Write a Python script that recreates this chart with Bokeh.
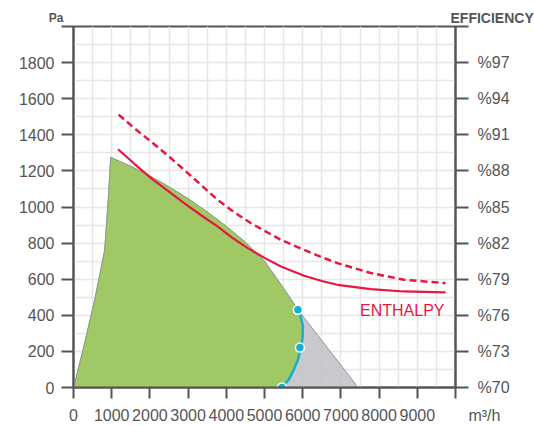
from bokeh.plotting import figure
from bokeh.models import Range1d, LinearAxis, FixedTicker, Label
from bokeh.embed import file_html
from bokeh.resources import INLINE

# ---- data ----
# fan envelope: left edge then top edge (m3/h, Pa)
env_left_x = [0, 78, 295, 556, 817, 914, 974]
env_left_y = [0, 62, 249, 486, 762, 1055, 1275]
env_top_x = [1500, 2000, 2500, 3000, 3500, 4000, 4500, 5000, 5250, 5500, 5875]
env_top_y = [1225, 1172, 1112, 1046, 973, 893, 805, 700, 625, 550, 431]
env_end_x = [7390, 7390]
env_end_y = [17, 0]

# limit curve (cyan) from top to bottom
lim_x = [5875, 5960, 6005, 5995, 5950, 5870, 5770, 5640, 5457]
lim_y = [431, 385, 337, 270, 215, 150, 99, 45, 0]
dot_x = [5875, 5927, 5457]
dot_y = [431, 221, 0]

# enthalpy efficiency curves
ent_x = [1167, 1600, 2037, 2500, 2906, 3350, 3778, 4150, 4561, 5000, 5431, 6039, 6500, 6911, 7781, 8650, 9739]
ent_y = [1320, 1238, 1159, 1085, 1020, 953, 891, 830, 772, 718, 670, 619, 590, 569, 545, 532, 527]
ent2_x = [1183, 1600, 2037, 2500, 2906, 3350, 3778, 4200, 4648, 5050, 5431, 6039, 6500, 6911, 7781, 8650, 9739]
ent2_y = [1512, 1435, 1361, 1280, 1204, 1120, 1039, 972, 910, 862, 818, 762, 722, 689, 634, 597, 578]

x_unit = "m³/h"
x_ticks = [0, 1000, 2000, 3000, 4000, 5000, 6000, 7000, 8000, 9000, 10000]
# the unit sits right of the last tick (no-break spaces push it right of the axis end)
x_labels = ["0", "1000", "2000", "3000", "4000", "5000", "6000", "7000", "8000", "9000",
            "\u00a0" * 13 + x_unit]
y_ticks = [0, 200, 400, 600, 800, 1000, 1200, 1400, 1600, 1800, 2000]
y_labels = ["0", "200", "400", "600", "800", "1000", "1200", "1400", "1600", "1800", ""]
eff_ticks = [70, 73, 76, 79, 82, 85, 88, 91, 94, 97, 100]
eff_labels = ["%70", "%73", "%76", "%79", "%82", "%85", "%88", "%91", "%94", "%97", ""]

AX = "#555555"
FONT = "Liberation Sans"

p = figure(width=534, height=426, output_backend="svg", toolbar_location=None,
           x_range=Range1d(0, 10000), y_range=Range1d(0, 2000),
           min_border_left=72, min_border_right=79, min_border_top=26, min_border_bottom=38)
p.extra_y_ranges = {"eff": Range1d(70, 100)}
p.background_fill_color = "white"
p.outline_line_color = AX
p.outline_line_width = 2

# grid
p.xgrid.ticker = FixedTicker(ticks=list(range(0, 10001, 500)))
p.ygrid.ticker = FixedTicker(ticks=list(range(0, 2001, 100)))
for g in (p.xgrid, p.ygrid):
    g.grid_line_color = "#e6e6e6"
    g.grid_line_width = 1.5
    g.level = "underlay"

def style_axis(ax, tick_out, standoff, size):
    ax.axis_line_color = AX
    ax.axis_line_width = 2
    ax.major_tick_line_color = AX
    ax.major_tick_line_width = 2
    ax.major_tick_in = 0
    ax.major_tick_out = tick_out
    ax.minor_tick_line_color = None
    ax.major_label_standoff = standoff
    ax.major_label_text_font = FONT
    ax.major_label_text_font_size = size
    ax.major_label_text_color = AX

xa = p.xaxis[0]
xa.ticker = FixedTicker(ticks=x_ticks)
xa.major_label_overrides = dict(zip(x_ticks, x_labels))
style_axis(xa, 11, 8, "16px")

ya = p.yaxis[0]
ya.ticker = FixedTicker(ticks=y_ticks)
ya.major_label_overrides = dict(zip(y_ticks, y_labels))
style_axis(ya, 12, 7, "16px")

ra = LinearAxis(y_range_name="eff", ticker=FixedTicker(ticks=eff_ticks))
ra.major_label_overrides = dict(zip(eff_ticks, eff_labels))
style_axis(ra, 13, 9, "16px")
p.add_layout(ra, "right")

# envelope (gray) and operating area (green)
gx = env_left_x + env_top_x + env_end_x
gy = env_left_y + env_top_y + env_end_y
p.patch(gx, gy, fill_color="#c0c1c7", fill_alpha=0.85, line_color="#8d949b", line_width=1)
grx = env_left_x + env_top_x + lim_x[1:]
gry = env_left_y + env_top_y + lim_y[1:]
p.patch(grx, gry, fill_color="#99c851", fill_alpha=0.85, line_color="#8d9a8b", line_width=1, line_alpha=0.8)

# enthalpy lines
p.line(ent2_x, ent2_y, line_color="#e8173f", line_width=2.5, line_dash="7 4")
p.line(ent_x, ent_y, line_color="#e8173f", line_width=2.2)

# limit curve
p.line(lim_x, lim_y, line_color="#19aecb", line_width=2.5)
p.scatter(dot_x, dot_y, size=9, fill_color="#14b0cf", line_color="white", line_width=1.5)

lbl_font = dict(text_font=FONT, text_color=AX, text_font_style="bold")
p.add_layout(Label(x=0, y=2000, x_offset=-10, y_offset=9, text="Pa", text_align="right",
                   text_baseline="alphabetic", text_font_size="12px", **lbl_font), "left")
p.add_layout(Label(x=10000, y=2000, x_offset=-5, y_offset=9, text="EFFICIENCY", text_align="left",
                   text_baseline="alphabetic", text_font_size="14px", **lbl_font), "above")
p.add_layout(Label(x=9713, y=427, text="ENTHALPY", text_align="right", text_baseline="alphabetic",
                   text_font=FONT, text_font_size="16px", text_color="#e8173f"))

open("out.html", "w").write(file_html(p, INLINE))
